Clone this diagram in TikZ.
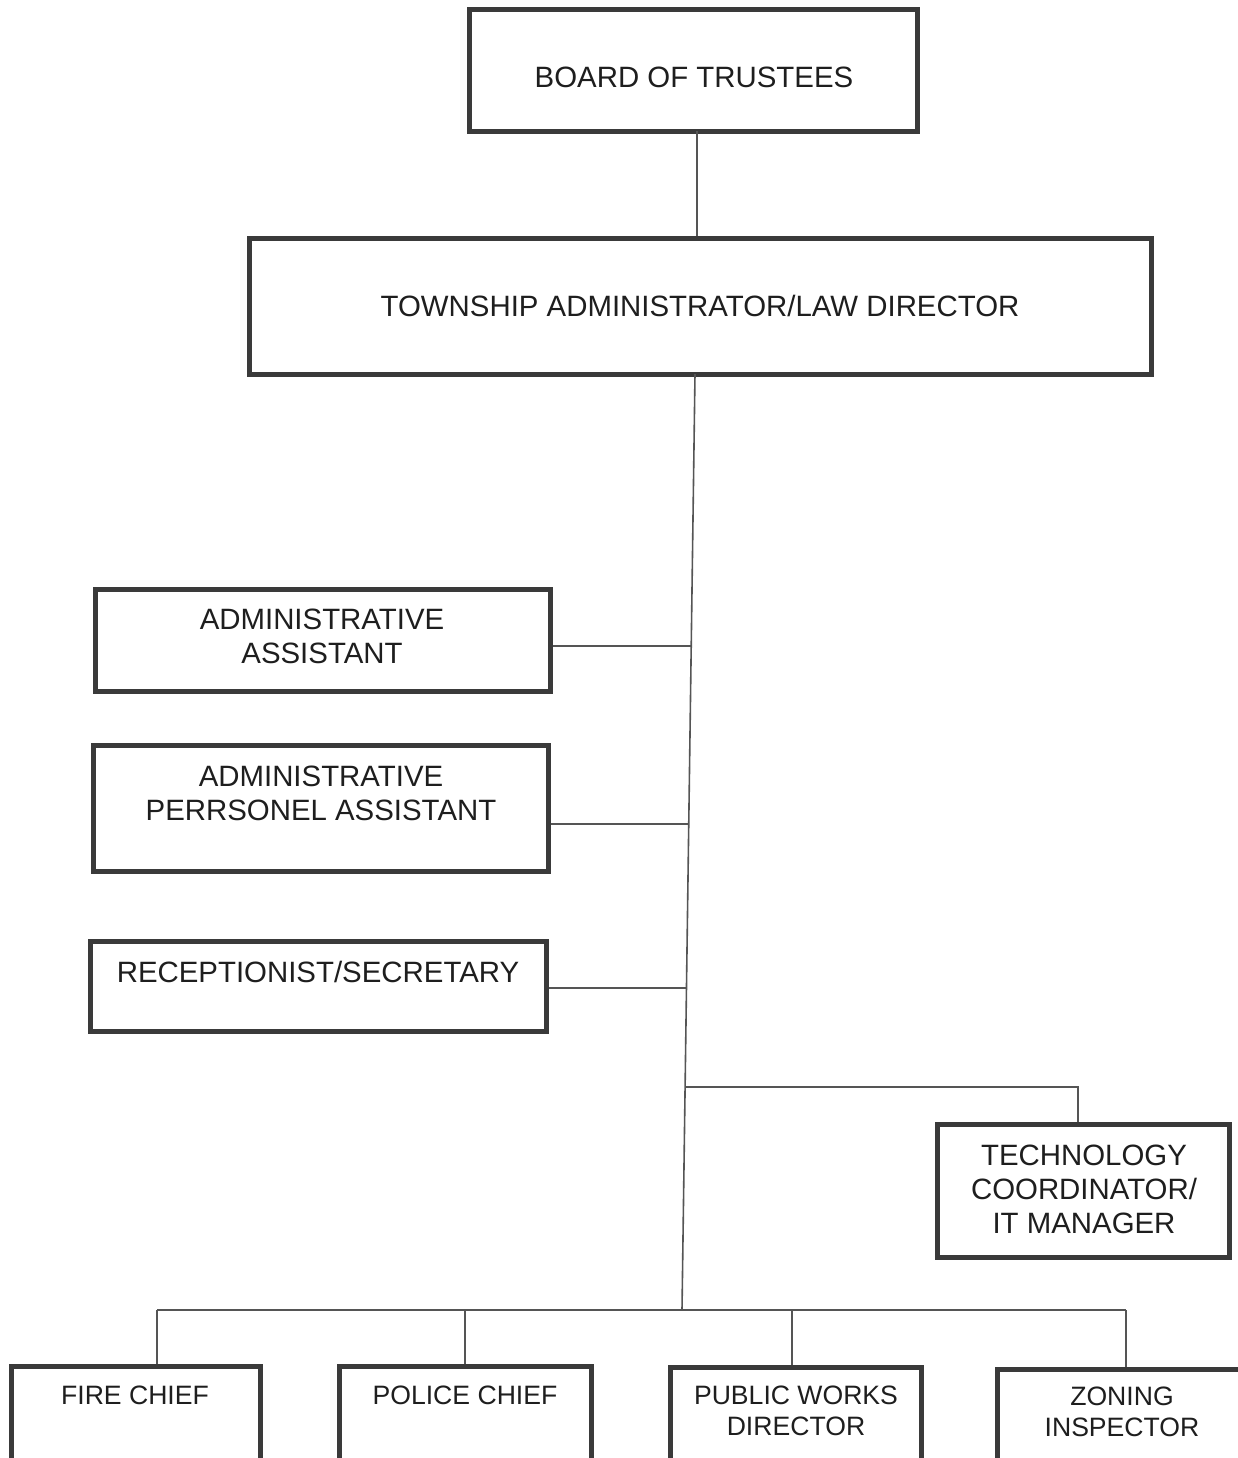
\documentclass[tikz,border=0pt]{standalone}
\usepackage{fontspec}
\setmainfont{Liberation Sans}
\usetikzlibrary{fit}
\definecolor{boxline}{HTML}{3A3A3A}
\definecolor{linkline}{HTML}{555555}
\definecolor{ink}{HTML}{1E1E1E}
\begin{document}
\begin{tikzpicture}[x=0.5pt,y=-0.5pt,
  box/.style={draw=boxline,line width=2.5pt,inner sep=0pt,rectangle},
  txt/.style={text=ink,font=\fontsize{14.7}{17}\selectfont,align=center,inner sep=0pt},
  smalltxt/.style={txt,font=\fontsize{13.3}{15.4}\selectfont},
  link/.style={draw=linkline,line width=0.8pt}]
\useasboundingbox (0,0) rectangle (1238,1458);
\clip (0,0) rectangle (1238,1458);
\fill[white] (0,0) rectangle (1238,1458);

% boxes
\node[box,fit={(469,9) (917,131)}] (board) {};
\node[box,fit={(249,238) (1151,374)}] (admin) {};
\node[box,fit={(95,589) (550,691)}] (aa) {};
\node[box,fit={(93,745) (548,871)}] (apa) {};
\node[box,fit={(90,941) (546,1031)}] (rec) {};
\node[box,fit={(937,1124) (1229,1257)}] (tech) {};
\node[box,fit={(11,1366) (260,1490)}] (fire) {};
\node[box,fit={(339,1366) (591,1490)}] (police) {};
\node[box,fit={(670,1367) (921,1490)}] (pw) {};
\node[box,fit={(997,1369) (1260,1490)}] (zone) {};

% labels
\node[txt] (boardT) at (694,77) {BOARD OF TRUSTEES};
\node[txt] (adminT) at (700,306) {TOWNSHIP ADMINISTRATOR/LAW DIRECTOR};
\node[txt] (aaT) at (322,636) {ADMINISTRATIVE\\ASSISTANT};
\node[txt] (apaT) at (321,793) {ADMINISTRATIVE\\PERRSONEL ASSISTANT};
\node[txt] (recT) at (318,972) {RECEPTIONIST/SECRETARY};
\node[txt] (techT) at (1084,1189) {TECHNOLOGY\\COORDINATOR/\\IT MANAGER};
\node[smalltxt] (fireT) at (135,1395) {FIRE CHIEF};
\node[smalltxt] (policeT) at (465,1395) {POLICE CHIEF};
\node[smalltxt] (pwT) at (796,1411) {PUBLIC WORKS\\DIRECTOR};
\node[smalltxt] (zoneT) at (1122,1412) {ZONING\\INSPECTOR};

% junction points
\coordinate (tb) at (697,131);
\coordinate (ttop) at (695,374);
\coordinate (j1) at (691.2,646);
\coordinate (j2) at (688.8,824);
\coordinate (j3) at (686.5,988);
\coordinate (j4) at (685.1,1087);
\coordinate (jb) at (682,1310);
\coordinate (tk) at (1078,1087);
\coordinate (b1) at (157,1310);
\coordinate (b2) at (465,1310);
\coordinate (b3) at (792,1310);
\coordinate (b4) at (1126,1310);

% connectors
\draw[link] (tb) -- (tb |- admin.north);
\draw[link] (ttop) -- (jb);
\draw[link] (j1 -| aa.east) -- (j1);
\draw[link] (j2 -| apa.east) -- (j2);
\draw[link] (j3 -| rec.east) -- (j3);
\draw[link] (j4) -- (tk) -- (tk |- tech.north);
\draw[link] (b1) -- (b4);
\draw[link] (b1) -- (b1 |- fire.north);
\draw[link] (b2) -- (b2 |- police.north);
\draw[link] (b3) -- (b3 |- pw.north);
\draw[link] (b4) -- (b4 |- zone.north);
\end{tikzpicture}
\end{document}
